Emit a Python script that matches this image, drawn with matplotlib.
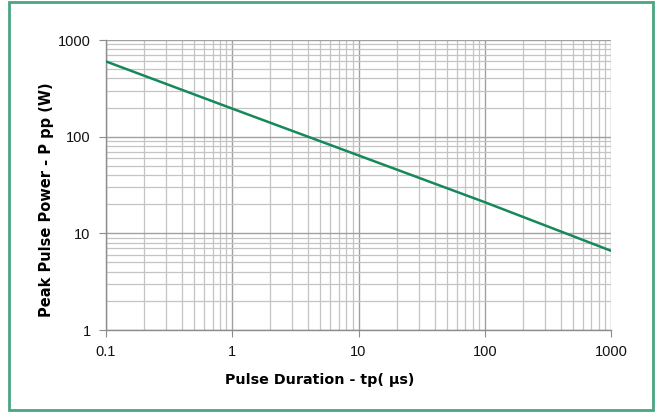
import matplotlib
matplotlib.use("Agg")
import matplotlib.pyplot as plt
from matplotlib.patches import Rectangle
from matplotlib.ticker import LogLocator, NullFormatter, FixedLocator, FixedFormatter

pulse_duration_us = [0.1, 1, 10, 100, 1000]
peak_power_w = [600, 195, 64, 21, 6.6]
x_ticks = [0.1, 1, 10, 100, 1000]
x_tick_labels = ["0.1", "1", "10", "100", "1000"]
y_ticks = [1, 10, 100, 1000]
y_tick_labels = ["1", "10", "100", "1000"]

plt.rcParams['font.family'] = ['Liberation Sans', 'DejaVu Sans']

fig = plt.figure(figsize=(6.57, 4.12), dpi=100)
fig.patches.append(Rectangle((9/657, 2/412), (653-9)/657, (410-2)/412,
                             transform=fig.transFigure, fill=False,
                             edgecolor='#4aa582', linewidth=2))
ax = fig.add_axes([106/657, (412-330)/412, (611-106)/657, (330-40)/412])
ax.set_xscale('log')
ax.set_yscale('log')
ax.set_xlim(0.1, 1000)
ax.set_ylim(1, 1000)

ax.plot(pulse_duration_us, peak_power_w, color='#16895a', linewidth=1.8, zorder=3)

ax.xaxis.set_major_locator(FixedLocator(x_ticks))
ax.xaxis.set_major_formatter(FixedFormatter(x_tick_labels))
ax.yaxis.set_major_locator(FixedLocator(y_ticks))
ax.yaxis.set_major_formatter(FixedFormatter(y_tick_labels))
ax.xaxis.set_minor_locator(LogLocator(base=10, subs=range(2, 10), numticks=20))
ax.yaxis.set_minor_locator(LogLocator(base=10, subs=range(2, 10), numticks=20))
ax.xaxis.set_minor_formatter(NullFormatter())
ax.yaxis.set_minor_formatter(NullFormatter())

ax.grid(which='major', color='#a0a0a0', linewidth=1.0)
ax.grid(which='minor', color='#c4c4c4', linewidth=0.9)
ax.set_axisbelow(True)

for s in ['top', 'right']:
    ax.spines[s].set_visible(False)
for s in ['left', 'bottom']:
    ax.spines[s].set_color('#8c8c8c')
    ax.spines[s].set_linewidth(1.0)

ax.tick_params(which='major', length=5, color='#8c8c8c', labelsize=10.5, labelcolor='#111111', pad=6)
ax.tick_params(which='minor', length=0)

ax.set_xlabel("Pulse Duration - tp( μs)", fontsize=10.3, fontweight='bold',
              family=['DejaVu Sans'], labelpad=10)
ax.set_ylabel("Peak Pulse Power - P pp (W)", fontsize=10.5, fontweight='bold',
              family=['DejaVu Sans'], labelpad=3)
ax.xaxis.label.set_x(0.424)
ax.yaxis.label.set_y(0.45)

fig.savefig("out.png", dpi=100)
